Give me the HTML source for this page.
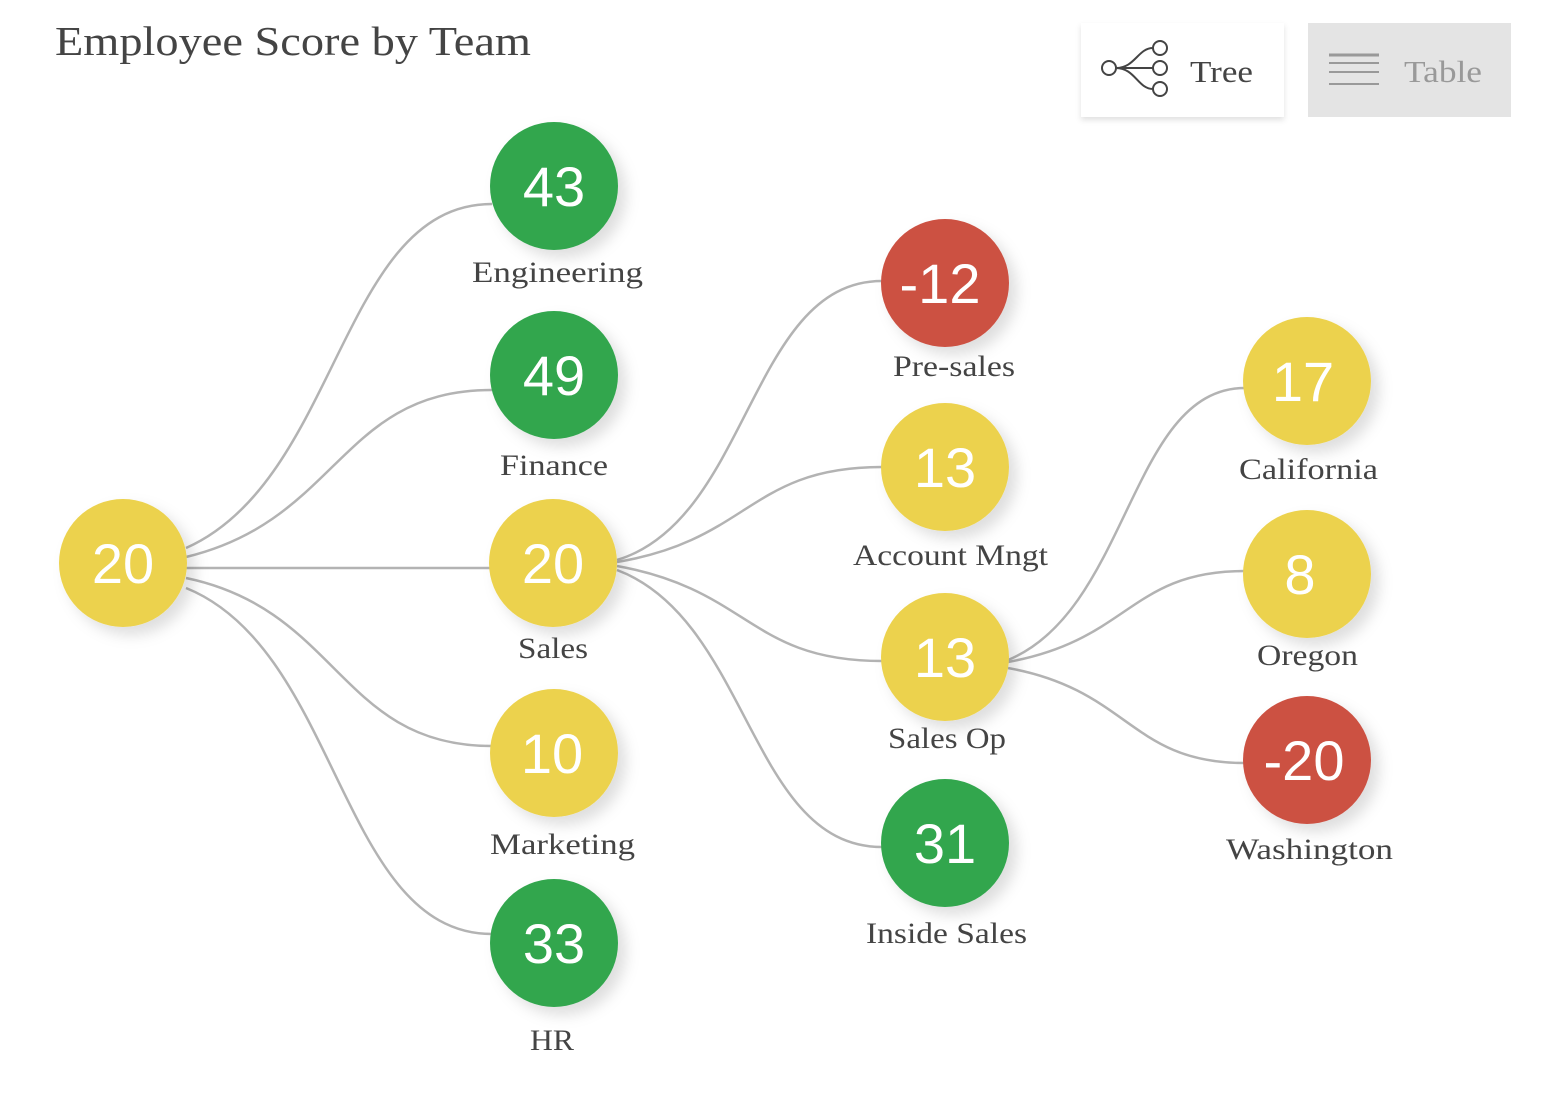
<!DOCTYPE html>
<html><head><meta charset="utf-8"><style>
html,body{margin:0;padding:0;background:#fff;width:1551px;height:1100px;overflow:hidden}
svg{display:block}
.lbl{font-family:"Liberation Serif",serif;font-size:30px;fill:#444;text-anchor:middle}
.num{font-family:"Liberation Sans",sans-serif;font-size:56px;fill:#fff;text-anchor:middle}
.e{fill:none;stroke:#b3b3b3;stroke-width:2.5}
</style></head><body>
<svg width="1551" height="1100" viewBox="0 0 1551 1100">
<defs>
<filter id="sh" x="-30%" y="-30%" width="170%" height="170%"><feDropShadow dx="8" dy="8" stdDeviation="7" flood-color="#000" flood-opacity="0.13"/></filter>
<filter id="bs" x="-10%" y="-10%" width="120%" height="130%"><feDropShadow dx="0" dy="3" stdDeviation="3" flood-color="#000" flood-opacity="0.12"/></filter>
</defs>
<text x="55" y="55" font-family="Liberation Serif,serif" font-size="41" fill="#444" textLength="476" lengthAdjust="spacingAndGlyphs">Employee Score by Team</text>
<rect x="1081" y="23" width="203" height="94" fill="#fff" filter="url(#bs)"/>
<g fill="none" stroke="#444" stroke-width="2">
<circle cx="1109" cy="68" r="7"/><circle cx="1160" cy="48" r="7"/><circle cx="1160" cy="68" r="7"/><circle cx="1160" cy="89" r="7"/>
<path d="M1116 68 C1135 68 1138 48 1153 48 M1116 68 L1153 68 M1116 68 C1135 68 1138 89 1153 89"/>
</g>
<text x="1190" y="82" font-family="Liberation Serif,serif" font-size="31" fill="#444" textLength="63" lengthAdjust="spacingAndGlyphs">Tree</text>
<rect x="1308" y="23" width="203" height="94" fill="#e4e4e4"/>
<g stroke="#999" stroke-width="2"><line x1="1329" y1="55" x2="1379" y2="55" stroke-width="3"/><line x1="1329" y1="63" x2="1379" y2="63"/><line x1="1329" y1="72" x2="1379" y2="72"/><line x1="1329" y1="84" x2="1379" y2="84"/></g>
<text x="1404" y="82" font-family="Liberation Serif,serif" font-size="31" fill="#999" textLength="78" lengthAdjust="spacingAndGlyphs">Table</text>

<g class="e">
<path d="M186 548 C340 480 340 204 492 204"/>
<path d="M186 557 C340 520 340 390 492 390"/>
<path d="M186 568 L490 568"/>
<path d="M186 578 C340 610 340 746 492 746"/>
<path d="M186 588 C340 650 340 934 492 934"/>
<path d="M617 560 C750 520 750 281 882 281"/>
<path d="M617 562 C750 540 750 467 882 467"/>
<path d="M617 566 C750 590 750 661 882 661"/>
<path d="M617 570 C750 620 750 847 882 847"/>
<path d="M1008 660 C1130 610 1130 388 1245 388"/>
<path d="M1008 662 C1130 640 1130 571 1245 571"/>
<path d="M1008 668 C1130 690 1130 763 1245 763"/>
</g>

<g filter="url(#sh)">
<circle cx="123" cy="563" r="64" fill="#ECD24E"/>
<circle cx="554" cy="186" r="64" fill="#31A64E"/>
<circle cx="554" cy="375" r="64" fill="#31A64E"/>
<circle cx="553" cy="563" r="64" fill="#ECD24E"/>
<circle cx="554" cy="753" r="64" fill="#ECD24E"/>
<circle cx="554" cy="943" r="64" fill="#31A64E"/>
<circle cx="945" cy="283" r="64" fill="#CC5143"/>
<circle cx="945" cy="467" r="64" fill="#ECD24E"/>
<circle cx="945" cy="657" r="64" fill="#ECD24E"/>
<circle cx="945" cy="843" r="64" fill="#31A64E"/>
<circle cx="1307" cy="381" r="64" fill="#ECD24E"/>
<circle cx="1307" cy="574" r="64" fill="#ECD24E"/>
<circle cx="1307" cy="760" r="64" fill="#CC5143"/>
</g>

<text class="num" x="123" y="583">20</text>
<text class="num" x="554" y="206">43</text>
<text class="num" x="554" y="395">49</text>
<text class="num" x="553" y="583">20</text>
<text class="num" x="552" y="773">10</text>
<text class="num" x="554" y="963">33</text>
<text class="num" x="940" y="303">-12</text>
<text class="num" x="945" y="487">13</text>
<text class="num" x="945" y="677">13</text>
<text class="num" x="945" y="863">31</text>
<text class="num" x="1303" y="401">17</text>
<text class="num" x="1300" y="594">8</text>
<text class="num" x="1304" y="780">-20</text>

<g class="lbl">
<text x="557.5" y="282" textLength="171" lengthAdjust="spacingAndGlyphs">Engineering</text>
<text x="554" y="475" textLength="108" lengthAdjust="spacingAndGlyphs">Finance</text>
<text x="553" y="658" textLength="70" lengthAdjust="spacingAndGlyphs">Sales</text>
<text x="562.5" y="854" textLength="145" lengthAdjust="spacingAndGlyphs">Marketing</text>
<text x="552" y="1050" textLength="44" lengthAdjust="spacingAndGlyphs">HR</text>
<text x="954" y="376" textLength="122" lengthAdjust="spacingAndGlyphs">Pre-sales</text>
<text x="950.5" y="565" textLength="195" lengthAdjust="spacingAndGlyphs">Account Mngt</text>
<text x="947" y="748" textLength="118" lengthAdjust="spacingAndGlyphs">Sales Op</text>
<text x="946.5" y="943" textLength="161" lengthAdjust="spacingAndGlyphs">Inside Sales</text>
<text x="1308.5" y="479" textLength="139" lengthAdjust="spacingAndGlyphs">California</text>
<text x="1307.5" y="665" textLength="101" lengthAdjust="spacingAndGlyphs">Oregon</text>
<text x="1309.5" y="859" textLength="167" lengthAdjust="spacingAndGlyphs">Washington</text>
</g>
</svg>
</body></html>
